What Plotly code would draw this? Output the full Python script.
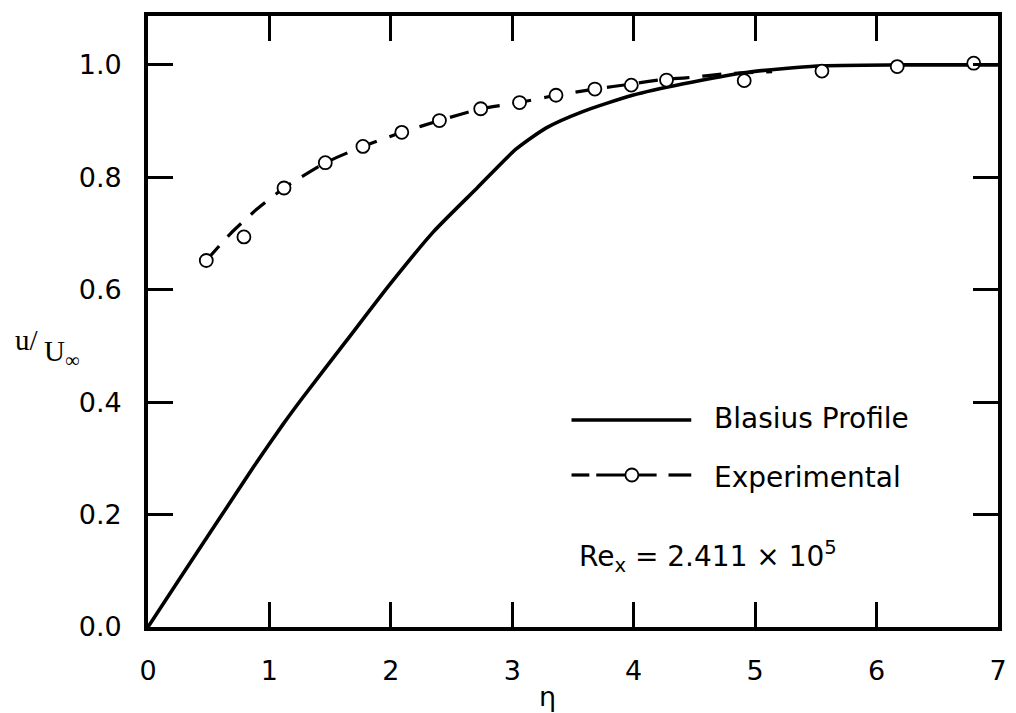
import plotly.graph_objects as go

# Blasius similarity profile u/U_inf versus eta
eta_blasius = [0, 0.27, 0.61, 0.87, 1.11, 1.27, 1.63, 1.99, 2.35, 2.71, 3.03, 3.28,
               3.58, 3.99, 4.40, 4.94, 5.51, 6.16, 7.0]
u_blasius = [0, 0.089, 0.200, 0.285, 0.360, 0.407, 0.508, 0.609, 0.703, 0.781, 0.850, 0.888,
             0.917, 0.946, 0.966, 0.987, 0.998, 1.0, 1.0]

# Measured velocity ratios
eta_exp = [0.48, 0.79, 1.12, 1.46, 1.77, 2.09, 2.40, 2.74, 3.06, 3.36, 3.68, 3.98,
           4.27, 4.91, 5.55, 6.17, 6.80]
u_exp = [0.652, 0.694, 0.781, 0.826, 0.855, 0.880, 0.901, 0.922, 0.933, 0.946, 0.957, 0.964,
         0.973, 0.972, 0.989, 0.997, 1.003]

# Faired curve through the measurements
eta_fit = [0.48, 0.68, 0.90, 1.12, 1.46, 1.77, 2.09, 2.40, 2.74, 3.06, 3.36, 3.68,
           3.98, 4.27, 4.43, 4.75, 5.14]
u_fit = [0.652, 0.700, 0.744, 0.781, 0.826, 0.855, 0.880, 0.901, 0.922, 0.933, 0.946, 0.957,
         0.966, 0.975, 0.977, 0.984, 0.988]

x_ticks = [0, 1, 2, 3, 4, 5, 6, 7]
y_ticks = [0.0, 0.2, 0.4, 0.6, 0.8, 1.0]
y_tick_labels = ["0.0", "0.2", "0.4", "0.6", "0.8", "1.0"]

W, H = 1016, 713
L, R, T, B = 148, 9, 16, 86
PW, PH = W - L - R, H - T - B
SANS = "DejaVu Sans"
SERIF = "Liberation Serif"


def px_x(px):
    return (px - L) / PW


def px_y(py):
    return (H - B - py) / PH


fig = go.Figure()

fig.add_trace(go.Scatter(
    x=eta_blasius, y=u_blasius, mode="lines",
    line=dict(color="black", width=3.6, shape="spline", smoothing=0.6),
    showlegend=False, hoverinfo="skip"))

fig.add_trace(go.Scatter(
    x=eta_fit, y=u_fit, mode="lines",
    line=dict(color="black", width=3.2, dash="19px,13px", shape="spline", smoothing=0.5),
    showlegend=False, hoverinfo="skip"))

fig.add_trace(go.Scatter(
    x=eta_exp, y=u_exp, mode="markers",
    marker=dict(symbol="circle", size=13, color="white",
                line=dict(color="black", width=1.8)),
    showlegend=False, cliponaxis=False))

axis_common = dict(
    showline=True, linewidth=3.6, linecolor="black", mirror="ticks",
    ticks="inside", ticklen=25, tickwidth=3.3, tickcolor="black",
    showgrid=False, zeroline=False,
    tickfont=dict(family=SANS, size=27, color="black"),
)

fig.update_layout(
    width=W, height=H,
    margin=dict(l=L, r=R, t=T, b=B, pad=0),
    paper_bgcolor="white", plot_bgcolor="white",
    xaxis=dict(range=[0, 7], tickvals=x_ticks, ticklabelstandoff=17, **axis_common),
    yaxis=dict(range=[0, 1.087], tickvals=y_ticks, ticktext=y_tick_labels,
               ticklabelstandoff=17, **axis_common),
)

# Legend drawn in the open area of the plot
shapes = [
    dict(type="line", xref="paper", yref="paper",
         x0=px_x(576), x1=px_x(697), y0=px_y(420), y1=px_y(420),
         line=dict(color="black", width=3.4)),
]
for a, b in [(576, 594), (601, 662), (674, 697)]:
    shapes.append(dict(type="line", xref="paper", yref="paper",
                       x0=px_x(a), x1=px_x(b), y0=px_y(475), y1=px_y(475),
                       line=dict(color="black", width=3.2)))
shapes.append(dict(type="circle", xref="paper", yref="paper",
                   xsizemode="pixel", ysizemode="pixel",
                   xanchor=px_x(637), yanchor=px_y(475),
                   x0=-6.5, x1=6.5, y0=-6.5, y1=6.5,
                   fillcolor="white", line=dict(color="black", width=1.8)))
fig.update_layout(shapes=shapes)

annotations = [
    dict(text="Blasius Profile", x=px_x(718), y=px_y(418), xanchor="left", yanchor="middle",
         font=dict(family=SANS, size=28, color="black")),
    dict(text="Experimental", x=px_x(718), y=px_y(477), xanchor="left", yanchor="middle",
         font=dict(family=SANS, size=28, color="black")),
    dict(text="Re<sub>x</sub> = 2.411 × 10<sup>5</sup>", x=px_x(582), y=px_y(556),
         xanchor="left", yanchor="middle",
         font=dict(family=SANS, size=28, color="black")),
    dict(text="u/", x=px_x(12), y=px_y(340), xanchor="left", yanchor="middle",
         font=dict(family=SERIF, size=29, color="black")),
    dict(text="U<sub>∞</sub>", x=px_x(41), y=px_y(353), xanchor="left", yanchor="middle",
         font=dict(family=SERIF, size=29, color="black")),
    dict(text="η", x=px_x(552), y=px_y(696), xanchor="center", yanchor="middle",
         font=dict(family=SANS, size=27, color="black")),
]
for a in annotations:
    a.update(xref="paper", yref="paper", showarrow=False)
fig.update_layout(annotations=annotations)

fig.write_html("out.html")
